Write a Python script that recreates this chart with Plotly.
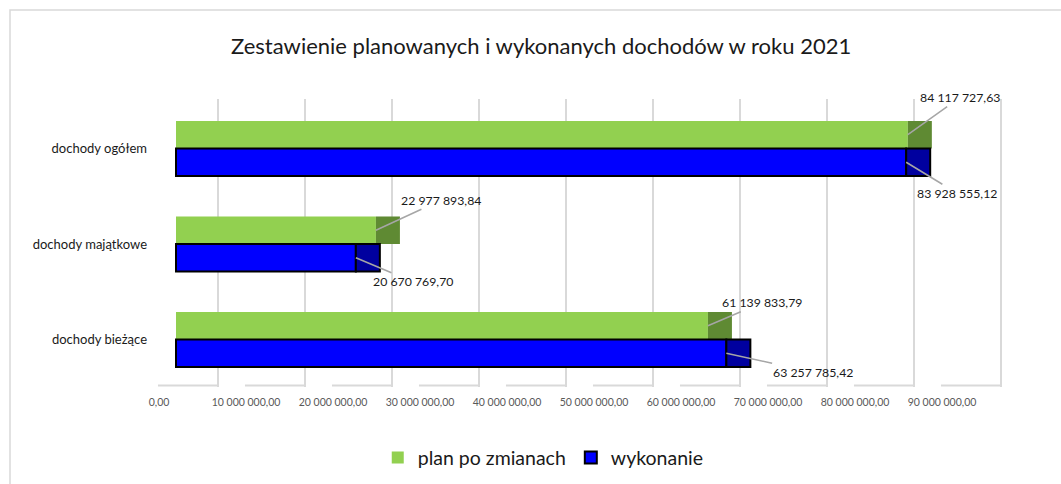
import plotly.graph_objects as go

# ---------------- data ----------------
categories = ["dochody bieżące", "dochody majątkowe", "dochody ogółem"]
plan_po_zmianach = [61139833.79, 22977893.84, 84117727.63]
wykonanie = [63257785.42, 20670769.70, 83928555.12]
tick_values = [0, 10e6, 20e6, 30e6, 40e6, 50e6, 60e6, 70e6, 80e6, 90e6]
series_names = ["plan po zmianach", "wykonanie"]
title_text = "Zestawienie planowanych i wykonanych dochodów w roku 2021"

# ---------------- style ----------------
FONT = "Lato"
GREEN, GREEN_SIDE = "#92d050", "#5f8a33"
BLUE, BLUE_SIDE = "#0000ff", "#00009f"
GRID = "#d9d9d9"
DEPTH = 2.76e6          # visual depth of the 3D side face (in axis units)
FLOOR = 6.9e6           # visual length of floor gridline segment
BAR_W = 0.288
# label offsets (px) : (ax, ay)
plan_offsets = [(54, -23), (65, -30), (52, -37)]
wyk_offsets = [(87, 19), (57, 24), (51, 31)]


def pl(v):
    return f"{v:,.2f}".replace(",", " ").replace(".", ",")


idx = list(range(len(categories)))

fig = go.Figure()

# plan (front + side face)
fig.add_trace(go.Bar(
    y=idx, x=plan_po_zmianach, orientation="h", name=series_names[0],
    marker=dict(color=GREEN, line=dict(width=0)), width=BAR_W, offset=0,
    xaxis="x", yaxis="y"))
fig.add_trace(go.Bar(
    y=idx, x=[DEPTH] * len(idx), base=plan_po_zmianach, orientation="h",
    showlegend=False, marker=dict(color=GREEN_SIDE, line=dict(width=0)),
    width=BAR_W, offset=0, xaxis="x", yaxis="y", hoverinfo="skip"))
# wykonanie (front + side face)
fig.add_trace(go.Bar(
    y=idx, x=wykonanie, orientation="h", name=series_names[1],
    marker=dict(color=BLUE, line=dict(width=2, color="#000000")),
    width=BAR_W, offset=-BAR_W, xaxis="x", yaxis="y"))
fig.add_trace(go.Bar(
    y=idx, x=[DEPTH] * len(idx), base=wykonanie, orientation="h",
    showlegend=False, marker=dict(color=BLUE_SIDE, line=dict(width=2, color="#000000")),
    width=BAR_W, offset=-BAR_W, xaxis="x", yaxis="y", hoverinfo="skip"))

# floor gridline segments (derived from tick values)
fx, fy = [], []
for t in tick_values:
    fx += [t - FLOOR, t, None]
    fy += [0, 0, None]
fig.add_trace(go.Scatter(x=fx, y=fy, mode="lines", showlegend=False,
                         line=dict(color=GRID, width=2), xaxis="x2", yaxis="y2",
                         hoverinfo="skip"))

# data labels
ann = []
for i in idx:
    ax, ay = plan_offsets[i]
    ann.append(dict(x=plan_po_zmianach[i], y=i + BAR_W / 2, xref="x", yref="y",
                    text=pl(plan_po_zmianach[i]), showarrow=True, arrowhead=0,
                    arrowwidth=1.5, arrowcolor="#a6a6a6", ax=ax, ay=ay,
                    standoff=0, startstandoff=0,
                    font=dict(family=FONT, size=12.3, color="#1a1a1a")))
    ax, ay = wyk_offsets[i]
    ann.append(dict(x=wykonanie[i], y=i - BAR_W / 2, xref="x", yref="y",
                    text=pl(wykonanie[i]), showarrow=True, arrowhead=0,
                    arrowwidth=1.5, arrowcolor="#a6a6a6", ax=ax, ay=ay,
                    standoff=0, startstandoff=0,
                    font=dict(family=FONT, size=12.3, color="#1a1a1a")))

fig.update_layout(
    width=1061, height=484,
    margin=dict(l=152, r=51, t=99, b=97, autoexpand=False),
    paper_bgcolor="white", plot_bgcolor="white",
    font=dict(family=FONT, color="#404040"),
    title=dict(text=title_text, x=0.51, xref="container", xanchor="center",
               y=1 - 46 / 484, yref="container", yanchor="middle",
               font=dict(family=FONT, size=22, color="#1a1a1a")),
    barmode="overlay",
    xaxis=dict(range=[-2.759e6, 95.862e6], showgrid=False, zeroline=False,
               showticklabels=False, showline=False, automargin=False),
    xaxis2=dict(range=[-7.586e6, 91.034e6], overlaying="x", side="bottom",
                showgrid=True, gridcolor=GRID, gridwidth=2, zeroline=False,
                tickmode="array", tickvals=tick_values,
                ticktext=[pl(v) for v in tick_values],
                ticklabelshift=-59, ticklabelstandoff=7, automargin=False,
                tickfont=dict(family=FONT, size=10.5, color="#595959"),
                showline=False),
    yaxis=dict(range=[-0.497, 2.518], tickmode="array", tickvals=idx,
               ticktext=categories, showgrid=False, zeroline=False,
               showline=False, ticklabelstandoff=4, automargin=False,
               tickfont=dict(family=FONT, size=13, color="#1a1a1a")),
    yaxis2=dict(range=[-0.005, 1], overlaying="y", visible=False, automargin=False),
    legend=dict(orientation="h", x=0.456, xanchor="center", y=-0.246,
                yanchor="middle", font=dict(family=FONT, size=19.5, color="#1a1a1a"),
                traceorder="normal"),
    annotations=ann,
    shapes=[dict(type="rect", xref="paper", yref="paper",
                 x0=(10 - 152) / 858, x1=1.2, y0=-0.6, y1=(387 - 10) / 288,
                 line=dict(color="#d9d9d9", width=1.5), layer="below")],
)

fig.write_html("out.html", config={"displayModeBar": False},
               post_script="document.body.style.margin='0';document.body.style.overflow='hidden';")
